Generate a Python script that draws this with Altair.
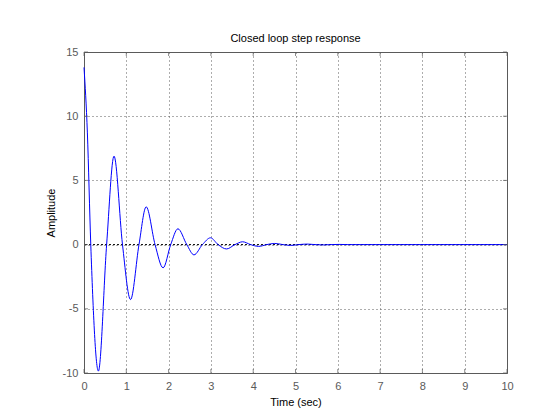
import altair as alt
import pandas as pd

# Step response samples (peaks and zero crossings)
time_s = [0.0, 0.08, 0.16, 0.34, 0.535, 0.71, 0.91, 1.10, 1.30, 1.47, 1.68, 1.87,
          2.05, 2.22, 2.43, 2.60, 2.80, 2.99, 3.17, 3.37, 3.57, 3.75, 3.94, 4.13,
          4.32, 4.51, 4.70, 4.89, 5.08, 5.27, 5.46, 5.65, 5.84, 6.03, 6.22, 10.0]
amplitude = [13.8, 8.7, 0.0, -9.85, 0.0, 6.89, 0.0, -4.28, 0.0, 2.94, 0.0, -1.81,
             0.0, 1.23, 0.0, -0.80, 0.0, 0.53, 0.0, -0.34, 0.0, 0.22, 0.0, -0.14,
             0.0, 0.09, 0.0, -0.06, 0.0, 0.04, 0.0, -0.025, 0.0, 0.015, 0.0, 0.0]

x_ticks = [0, 1, 2, 3, 4, 5, 6, 7, 8, 9, 10]
y_ticks = [-10, -5, 0, 5, 10, 15]

FONT = "Liberation Sans"
AX = "#5a5a5a"

df = pd.DataFrame({"t": time_s, "y": amplitude})
xt = pd.DataFrame({"v": x_ticks})
yt = pd.DataFrame({"v": y_ticks})

xscale = alt.Scale(domain=[0, 10], nice=False, zero=False)
yscale = alt.Scale(domain=[-10, 15], nice=False, zero=False)

xaxis = alt.Axis(values=x_ticks, grid=True, gridColor=AX, gridDash=[1, 3],
                 domain=False, ticks=False, tickSize=0, labelColor=AX,
                 labelFontSize=11, labelFont=FONT, labelPadding=7,
                 labelFlush=False, labelExpr="toString(datum.value)",
                 title="Time (sec)", titleColor="black",
                 titleFont=FONT, titleFontSize=11, titleFontWeight="normal",
                 titlePadding=5)
yaxis = alt.Axis(values=y_ticks, grid=True, gridColor=AX, gridDash=[1, 3],
                 domain=False, ticks=False, tickSize=0, labelColor=AX,
                 labelFontSize=11, labelFont=FONT, labelPadding=6,
                 labelFlush=False, labelExpr="toString(datum.value)",
                 title="Amplitude", titleColor="black",
                 titleFont=FONT, titleFontSize=11, titleFontWeight="normal",
                 titlePadding=6)

base_line = alt.Chart(df).mark_line(color="#0000ff", strokeWidth=1,
                                    interpolate="monotone").encode(
    x=alt.X("t:Q", scale=xscale, axis=xaxis),
    y=alt.Y("y:Q", scale=yscale, axis=yaxis),
)

zero_rule = alt.Chart(yt).transform_filter(alt.datum.v == 0).mark_rule(
    color="black", strokeDash=[2, 2], strokeWidth=1).encode(
    y=alt.Y("v:Q", scale=yscale)
)

tick_bottom = alt.Chart(xt).mark_tick(orient="vertical", size=4, thickness=1,
                                      color=AX, yOffset=-2).encode(
    x=alt.X("v:Q", scale=xscale), y=alt.datum(-10))
tick_top = alt.Chart(xt).mark_tick(orient="vertical", size=4, thickness=1,
                                   color=AX, yOffset=2).encode(
    x=alt.X("v:Q", scale=xscale), y=alt.datum(15))
tick_left = alt.Chart(yt).mark_tick(orient="horizontal", size=4, thickness=1,
                                    color=AX, xOffset=2).encode(
    y=alt.Y("v:Q", scale=yscale), x=alt.datum(0))
tick_right = alt.Chart(yt).mark_tick(orient="horizontal", size=4, thickness=1,
                                     color=AX, xOffset=-2).encode(
    y=alt.Y("v:Q", scale=yscale), x=alt.datum(10))

chart = alt.layer(
    zero_rule, base_line, tick_bottom, tick_top, tick_left, tick_right
).properties(
    width=423, height=321,
    title=alt.TitleParams("Closed loop step response", font=FONT, fontSize=11,
                          fontWeight="normal", color="black", offset=2,
                          frame="group"),
    autosize=alt.AutoSizeParams(type="none"),
    padding={"left": 76, "top": 44, "right": 40, "bottom": 40},
    background="white",
).configure_view(stroke=AX, strokeWidth=1)

chart.save("out.html", embed_options={"renderer": "svg", "actions": False})
